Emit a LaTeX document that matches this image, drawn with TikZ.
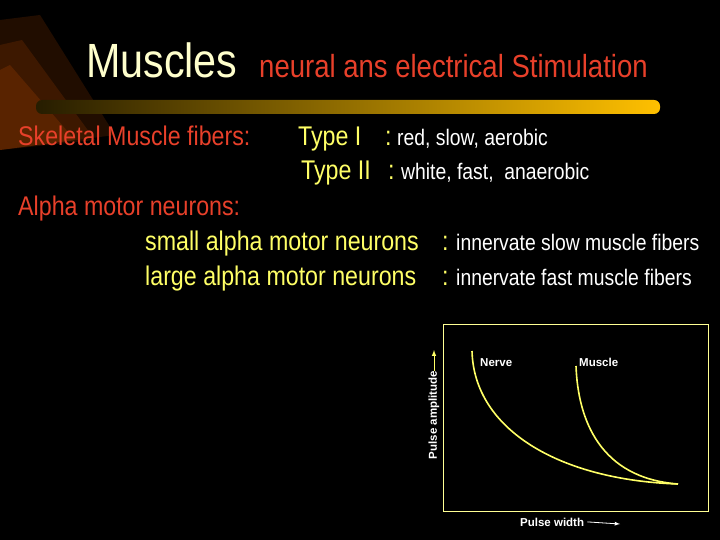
\documentclass[tikz,border=0pt]{standalone}
\usepackage{fontspec}
\setmainfont{Liberation Sans}
\newfontfamily\arialn[FakeStretch=0.86]{Liberation Sans}
\begin{document}
\begin{tikzpicture}[x=1pt,y=-1pt,
  lab/.style={anchor=base west,inner sep=0,font=\arialn},
  big/.style={lab,font=\arialn\fontsize{27}{30}\selectfont},
  small/.style={lab,font=\arialn\fontsize{22.5}{25}\selectfont,text=white},
  gtxt/.style={inner sep=0,font=\bfseries\fontsize{11.5}{13}\selectfont,text=white}]
\definecolor{cream}{HTML}{FFFFCC}
\definecolor{redt}{HTML}{E8402A}
\definecolor{ylw}{HTML}{FFFF66}
\definecolor{gold}{HTML}{FFC000}
\fill[black] (0,0) rectangle (720,540);
\useasboundingbox (0,0) rectangle (720,540);
% decoration
\fill[orange!80!red,opacity=0.13] (0,20) -- (40,15) -- (115,135) -- (0,150) -- cycle;
\fill[orange!80!red,opacity=0.13] (0,45) -- (22,40) -- (95,140) -- (0,150) -- cycle;
\fill[orange!80!red,opacity=0.15] (0,70) -- (10,65) -- (75,140) -- (0,150) -- cycle;
\shade[left color=black!85!gold,right color=gold,rounded corners=6pt] (36,100) rectangle (660,114);
% title
\node[lab,font=\arialn\fontsize{48}{52}\selectfont,text=cream] (t1) at (86,78) {Muscles};
\node[lab,font=\arialn\fontsize{32}{35}\selectfont,text=redt] (t2) at (259,78) {neural ans electrical Stimulation};
% text
\node[big,text=redt] (s1) at (18,146) {Skeletal Muscle fibers:};
\node[big,text=ylw] (a1) at (298,146) {Type I};
\node[big,text=ylw] (a2) at (385,146) {:};
\node[small] (a3) at (397,146) {red, slow, aerobic};
\node[big,text=ylw] (b1) at (301,180) {Type II};
\node[big,text=ylw] (b2) at (388,180) {:};
\node[small] (b3) at (401,180) {white, fast,\ \ anaerobic};
\node[big,text=redt] (s2) at (18,215) {Alpha motor neurons:};
\node[big,text=ylw] (c1) at (145,250) {small alpha motor neurons};
\node[big,text=ylw] (c2) at (442,250) {:};
\node[small] (c3) at (456,250) {innervate slow muscle fibers};
\node[big,text=ylw] (d1) at (145,285) {large alpha motor neurons};
\node[big,text=ylw] (d2) at (442,285) {:};
\node[small] (d3) at (456,285) {innervate fast muscle fibers};
% graph
\draw[ylw!70!white,line width=0.8pt] (443,324) rectangle (708,511);
\node[gtxt,rotate=90] (ya) at (434,415) {Pulse amplitude};
\coordinate (yt) at (434,350);
\draw[ylw,line width=1pt,-latex] (ya.east) -- (yt);
\node[gtxt,anchor=base west] (xa) at (520,526) {Pulse width};
\coordinate (xt) at (620,524);
\draw[white,line width=0.8pt,-latex] (xa.east) ++(3,0) -- (xt);
\node[gtxt,anchor=base west] (n) at (480,366) {Nerve};
\node[gtxt,anchor=base west] (m) at (579,366) {Muscle};
\draw[ylw,line width=1.6pt] (472,351) .. controls (474,430) and (560,480) .. (678,484);
\draw[ylw,line width=1.6pt] (576,366) .. controls (578,420) and (600,478) .. (678,484);
\end{tikzpicture}
\end{document}
